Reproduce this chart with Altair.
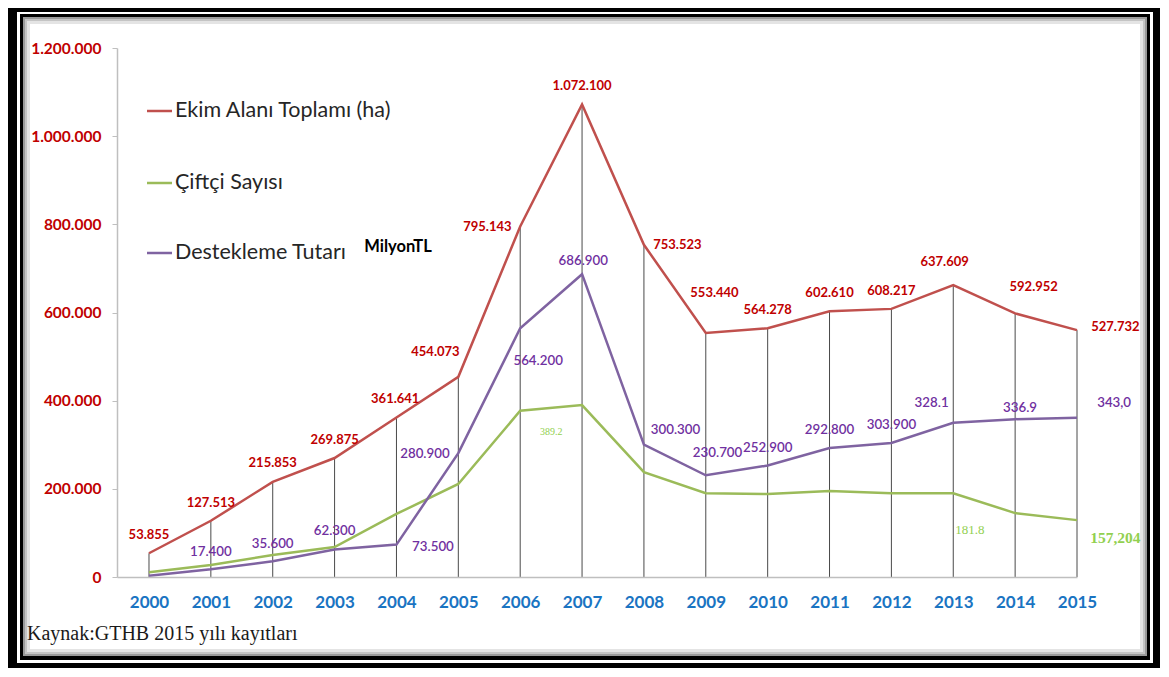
import altair as alt
import pandas as pd

# ---------------- data ----------------
years = list(range(2000, 2016))
ekim_alani = [53855, 127513, 215853, 269875, 361641, 454073, 795143, 1072100,
              753523, 553440, 564278, 602610, 608217, 662000, 598000, 560000]
ciftci_sayisi = [11000, 27000, 50000, 68000, 143000, 211000, 377000, 390000,
                 238000, 190000, 188000, 195000, 190000, 190000, 145000, 129000]
destekleme = [3000, 17400, 35600, 62300, 73500, 280900, 564200, 686900,
              300300, 230700, 252900, 292800, 303900, 350000, 358000, 361000]

ekim_text = ["53.855", "127.513", "215.853", "269.875", "361.641", "454.073", "795.143",
             "1.072.100", "753.523", "553.440", "564.278", "602.610", "608.217",
             "637.609", "592.952", "527.732"]
ekim_text_x = [2000.0, 2001.0, 2002.0, 2003.0, 2003.98, 2004.63, 2005.47, 2007.0,
               2008.54, 2009.14, 2010.0, 2011.0, 2012.0, 2012.86, 2014.3, 2015.62]
ekim_text_y = [95000, 168000, 259000, 311000, 404000, 510000, 794000, 1114000,
               753000, 644000, 605000, 644000, 649000, 714000, 658000, 567000]

destek_text = ["17.400", "35.600", "62.300", "73.500", "280.900", "564.200", "686.900",
               "300.300", "230.700", "252.900", "292.800", "303.900", "328.1", "336.9", "343,0"]
destek_text_x = [2001.0, 2002.0, 2003.0, 2004.59, 2004.46, 2006.29, 2007.02, 2008.51,
                 2009.19, 2010.0, 2011.0, 2012.0, 2012.65, 2014.08, 2015.6]
destek_text_y = [56700, 74900, 104000, 68000, 279000, 490000, 717000, 333000,
                 281000, 293000, 333000, 345000, 395000, 383000, 395000]

ciftci_text = ["389.2", "181.8", "157,204"]
ciftci_text_x = [2006.5, 2013.27, 2015.62]
ciftci_text_y = [329000, 107000, 88000]

series_keys = ["ekim", "ciftci", "destek"]
series_names = ["Ekim Alanı Toplamı (ha)", "Çiftçi Sayısı", "Destekleme Tutarı"]
y_ticks = [0, 200000, 400000, 600000, 800000, 1000000, 1200000]

# ---------------- styles ----------------
RED_LINE, GREEN_LINE, PURPLE_LINE = "#C0504D", "#9BBB59", "#7F63A1"
RED_TXT, PURPLE_TXT, GREEN_TXT = "#C00000", "#7030A0", "#92D050"
BLUE_TXT = "#1A74C2"
SANS, SERIF = "Lato", "Liberation Serif"

xscale = alt.Scale(domain=[1999.483, 2015], nice=False, zero=False)
yscale = alt.Scale(domain=[0, 1200000], nice=False)

def X(field):
    return alt.X(field + ":Q", scale=xscale, title=None,
                 axis=alt.Axis(values=years, format="d", ticks=False, tickSize=0,
                               labelColor=BLUE_TXT, labelFont=SANS, labelFontSize=17,
                               labelFontWeight="bold", labelPadding=17, grid=False,
                               domainColor="#BFBFBF", domainWidth=1.5, zindex=1,
                               labelFlush=False, labelOverlap=False))

def Y(field):
    return alt.Y(field + ":Q", scale=yscale, title=None,
                 axis=alt.Axis(values=y_ticks,
                               labelExpr="replace(format(datum.value, ','), regexp(',', 'g'), '.')",
                               labelColor=RED_TXT, labelFont=SANS, labelFontSize=15.5,
                               labelFontWeight="bold", labelPadding=11, tickSize=5,
                               tickColor="#BFBFBF", domainColor="#BFBFBF", domainWidth=1.5,
                               grid=False, zindex=1))

wide = pd.DataFrame({"year": years, "ekim": ekim_alani, "ciftci": ciftci_sayisi,
                     "destek": destekleme, "zero": [0] * len(years)})
long = wide.melt(id_vars=["year"], value_vars=series_keys, var_name="series", value_name="value")

one = pd.DataFrame({"a": [0]})

def frame_rect(x1, x2, y1, y2, color):
    return alt.Chart(one).mark_rect(color=color).encode(
        x=alt.value(x1), x2=alt.value(x2), y=alt.value(y1), y2=alt.value(y2))

frame = [
    frame_rect(-100, 1036, -36, 615, "white"),
    frame_rect(-97, 1033, -34, 612, "black"),
    frame_rect(-94, 1030, -31, 608, "#9a9a9a"),
    frame_rect(-92, 1028, -29, 606, "#c4c4c4"),
    frame_rect(-90, 1026, -27, 604, "#e4e4e4"),
    frame_rect(-87, 1023, -24, 601, "white"),
]

drops = alt.Chart(wide).mark_rule(color="#4a4a4a", strokeWidth=1).encode(
    x=X("year"), y=Y("ekim"), y2=alt.Y2("zero"))

lines = alt.Chart(long).mark_line(strokeWidth=2.5).encode(
    x=X("year"), y=Y("value"),
    color=alt.Color("series:N", scale=alt.Scale(domain=series_keys,
                                                range=[RED_LINE, GREEN_LINE, PURPLE_LINE]),
                    legend=None),
    detail="series:N")

red_lbl = alt.Chart(pd.DataFrame({"x": ekim_text_x, "y": ekim_text_y, "t": ekim_text})).mark_text(
    font=SANS, fontSize=13, fontWeight="bold", color=RED_TXT, align="center", baseline="middle"
).encode(x=X("x"), y=Y("y"), text="t:N")

pur_lbl = alt.Chart(pd.DataFrame({"x": destek_text_x, "y": destek_text_y, "t": destek_text})).mark_text(
    font=SANS, fontSize=13.3, fontWeight=600, color=PURPLE_TXT, align="center", baseline="middle"
).encode(x=X("x"), y=Y("y"), text="t:N")

green_sizes = [10, 13, 15.5]
green_weights = ["normal", "normal", "bold"]
grn_lbls = []
for i in range(len(ciftci_text)):
    d = pd.DataFrame({"x": [ciftci_text_x[i]], "y": [ciftci_text_y[i]], "t": [ciftci_text[i]]})
    grn_lbls.append(alt.Chart(d).mark_text(
        font=SERIF, fontSize=green_sizes[i], fontWeight=green_weights[i], color=GREEN_TXT,
        align="center", baseline="middle").encode(x=X("x"), y=Y("y"), text="t:N"))

# legend (manual)
leg_colors = [RED_LINE, GREEN_LINE, PURPLE_LINE]
leg_y = [63, 135, 205]
legend = []
for name, col, yy in zip(series_names, leg_colors, leg_y):
    legend.append(alt.Chart(one).mark_rule(color=col, strokeWidth=2.5).encode(
        x=alt.value(30), x2=alt.value(55), y=alt.value(yy)))
    legend.append(alt.Chart(one).mark_text(
        text=name, font=SANS, fontSize=21.5, color="#262626", align="left", baseline="middle"
    ).encode(x=alt.value(58), y=alt.value(yy)))

milyon = alt.Chart(one).mark_text(
    text="MilyonTL", font=SANS, fontSize=16.5, fontWeight="bold", color="black",
    align="center", baseline="middle").encode(x=alt.value(281), y=alt.value(199))

source = alt.Chart(one).mark_text(
    text="Kaynak:GTHB 2015 yılı kayıtları", font=SERIF, fontSize=20, color="#1a1a1a",
    align="left", baseline="middle").encode(x=alt.value(-90), y=alt.value(586))

chart = alt.layer(*frame, drops, lines, red_lbl, pur_lbl, *grn_lbls, *legend, milyon, source).properties(
    width=960, height=529,
    autosize=alt.AutoSizeParams(type="none"),
    padding={"left": 109, "top": 40, "right": 83, "bottom": 91},
    background="black",
).configure_view(stroke=None)

chart.save("out.html", embed_options={"renderer": "svg", "actions": False})
